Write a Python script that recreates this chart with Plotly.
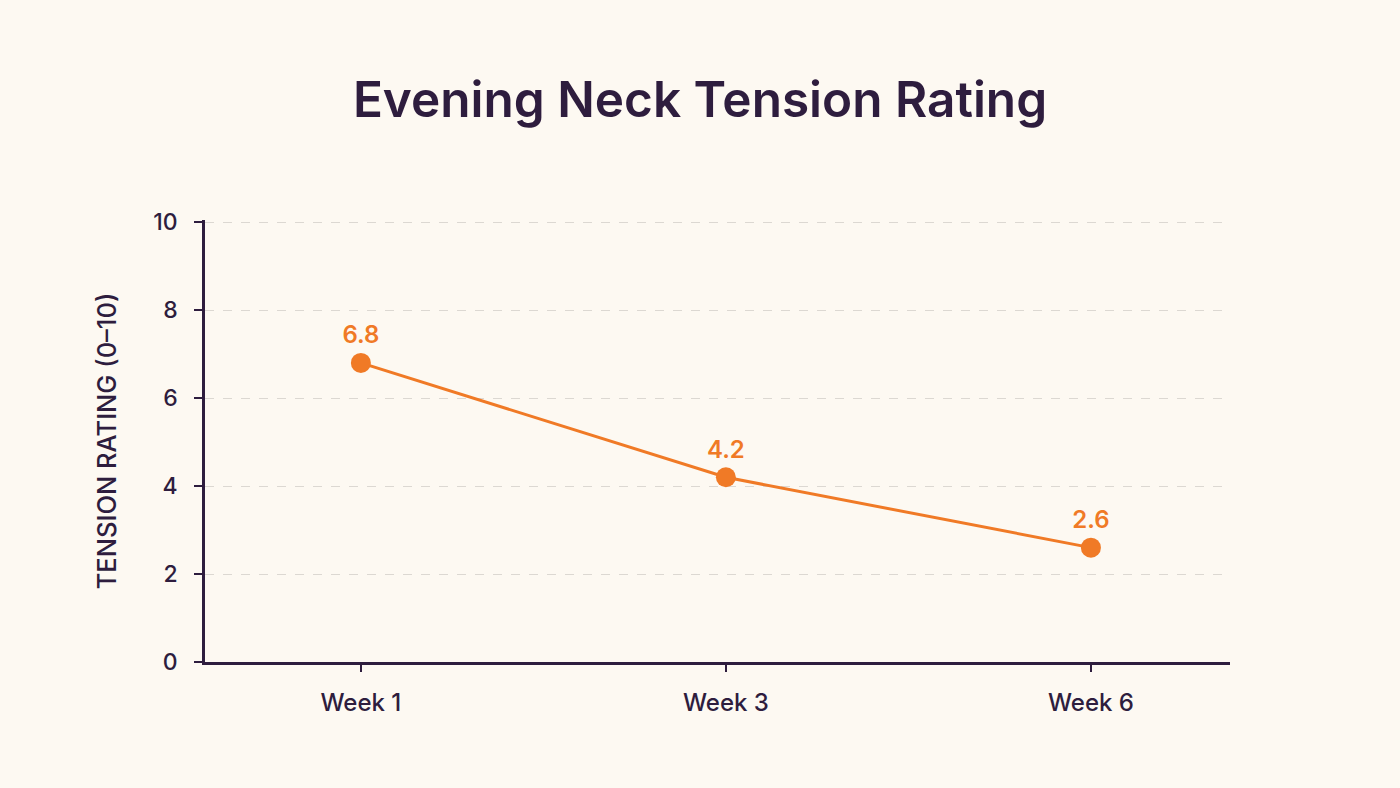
import plotly.graph_objects as go

weeks = ["Week 1", "Week 3", "Week 6"]
ratings = [6.8, 4.2, 2.6]
rating_labels = ["6.8", "4.2", "2.6"]
y_ticks = [0, 2, 4, 6, 8, 10]

DARK = "#2e1d3e"
ORANGE = "#f07a26"
BG = "#fdf9f2"
FONT = "Inter"

fig = go.Figure()
fig.add_trace(go.Scatter(
    x=weeks, y=ratings,
    mode="lines+markers+text",
    text=rating_labels,
    textposition="top center",
    textfont=dict(family=FONT, size=24, color=ORANGE, weight=600),
    line=dict(color=ORANGE, width=3),
    marker=dict(color=ORANGE, size=20),
    cliponaxis=False,
    hoverinfo="skip",
))

fig.update_layout(
    width=1400, height=788,
    paper_bgcolor=BG, plot_bgcolor=BG,
    margin=dict(l=205, r=170, t=220, b=126),
    showlegend=False,
    title=dict(
        text="Evening Neck Tension Rating",
        x=0.5, xanchor="center", y=0.873, yanchor="middle",
        font=dict(family=FONT, size=49.5, color=DARK, weight=600),
    ),
    font=dict(family=FONT, color=DARK),
)

fig.update_xaxes(
    type="category",
    range=[-0.427, 2.381],
    showline=True, linecolor=DARK, linewidth=2.5,
    ticks="outside", ticklen=7, tickwidth=2, tickcolor=DARK,
    showgrid=False, zeroline=False,
    tickfont=dict(family=FONT, size=24, color=DARK, weight=500),
    ticklabelstandoff=10,
)
fig.update_yaxes(
    range=[0, 10.05],
    tickvals=y_ticks,
    showline=True, linecolor=DARK, linewidth=2.5,
    ticks="outside", ticklen=8, tickwidth=2, tickcolor=DARK,
    showgrid=True, gridcolor="#dcd8d2", griddash="dash", gridwidth=1,
    zeroline=False,
    tickfont=dict(family=FONT, size=23, color=DARK, weight=500),
    ticklabelstandoff=12,
    title=dict(text="TENSION RATING (0–10)", standoff=30,
               font=dict(family=FONT, size=25.5, color=DARK, weight=500)),
)

fig.write_html("out.html")
